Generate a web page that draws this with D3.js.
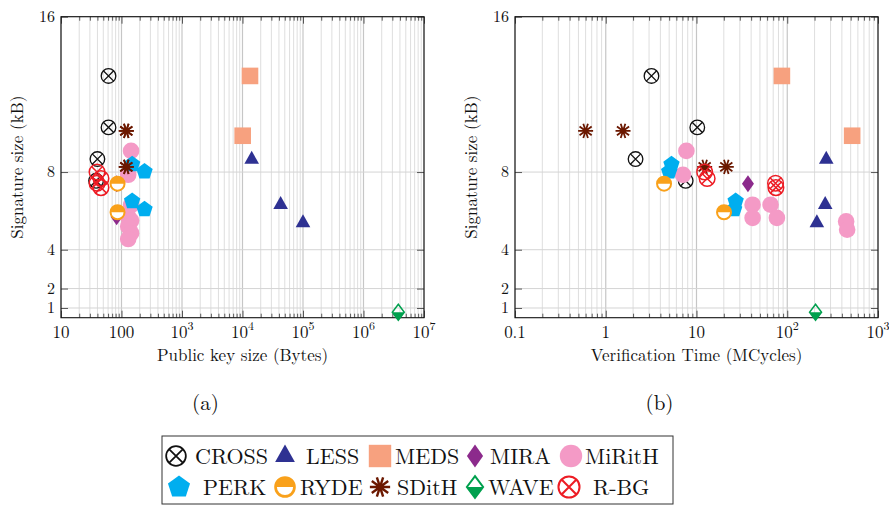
<!DOCTYPE html>
<html><head><meta charset="utf-8">
<script src="https://cdn.jsdelivr.net/npm/d3@7"></script>
<style>body{margin:0;background:#fff}svg{display:block}</style>
</head><body><svg id="c" width="889" height="506"></svg>
<script>
// ---------- data ----------
const schemes = ["CROSS","LESS","MEDS","MIRA","MiRitH","PERK","RYDE","SDitH","WAVE","R-BG"];
const sigTicks = [1,2,4,8,16];
const pkTickLabels = ["10","100","10^3","10^4","10^5","10^6","10^7"];
const timeTickLabels = ["0.1","1","10","10^2","10^3"];

const crossPk = [61,61,40,38], crossTime = [3.19,10.2,2.13,7.6], crossSig = [12.95,10.3,8.67,7.55];
const lessPk = [14200,42700,100000], lessTime = [269,262,212], lessSig = [8.65,6.32,5.38];
const medsPk = [13300,10070], medsTime = [87.3,519], medsSig = [12.95,9.87];
const miraPk = [83,83], miraTime = [36.9,41.5], miraSig = [7.4,5.7];
const mirithPk = [144,129,144,129,144,129,144,129], mirithSigPk = [9.09,7.86,6.3,5.7,5.5,5.2,4.85,4.55];
const mirithTime = [7.74,7.1,41.5,41.5,65.5,76.9,445.6,457], mirithSigTime = [9.09,7.86,6.32,5.64,6.32,5.64,5.46,5.03];
const perkPk = [150,240,150,240], perkTime = [5.3,5.0,27,26], perkSig = [8.4,8.02,6.5,6.08];
const rydePk = [86,86], rydeTime = [4.39,20.1], rydeSig = [7.4,5.93];
const sdithPk = [120,120,120,120], sdithTime = [0.6,1.55,12.3,21.3], sdithSig = [10.12,10.12,8.27,8.27];
const wavePk = [3.76e6], waveTime = [205], waveSig = [0.78];
const rbgPk = [39.4,45.8,39.4,45.8], rbgTime = [12.3,13.1,74.3,75], rbgSig = [8.0,7.67,7.42,7.2];

const leftSeries = [
  ["CROSS",crossPk,crossSig],["LESS",lessPk,lessSig],["MEDS",medsPk,medsSig],["MIRA",miraPk,miraSig],
  ["MiRitH",mirithPk,mirithSigPk],["PERK",perkPk,perkSig],["RYDE",rydePk,rydeSig],["SDitH",sdithPk,sdithSig],
  ["WAVE",wavePk,waveSig],["R-BG",rbgPk,rbgSig]];
const rightSeries = [
  ["CROSS",crossTime,crossSig],["LESS",lessTime,lessSig],["MEDS",medsTime,medsSig],["MIRA",miraTime,miraSig],
  ["MiRitH",mirithTime,mirithSigTime],["PERK",perkTime,perkSig],["RYDE",rydeTime,rydeSig],["SDitH",sdithTime,sdithSig],
  ["WAVE",waveTime,waveSig],["R-BG",rbgTime,rbgSig]];

// ---------- styles ----------
const FONT = '"Latin Modern Roman"';
const col = {CROSS:"#111",LESS:"#2e3192",MEDS:"#f7a17f",MIRA:"#8c2a8c",MiRitH:"#f49ac6",PERK:"#00aeef",
  RYDE:"#f9a11b",SDitH:"#6b1800",WAVE:"#00a04e","R-BG":"#ed1c24"};

function drawMarker(g, type, s){
  const c = col[type];
  if(type==="CROSS"||type==="R-BG"){
    const r = (type==="CROSS"?7.3:7.8)*s, k=r*0.7071;
    const sw = (type==="CROSS"?1.3:1.5)*s;
    g.append("circle").attr("r",r).attr("fill","none").attr("stroke",c).attr("stroke-width",sw);
    g.append("path").attr("d",`M${-k},${-k}L${k},${k}M${-k},${k}L${k},${-k}`).attr("stroke",c).attr("stroke-width",sw);
  } else if(type==="LESS"){
    g.append("path").attr("d",`M0,${-8.6*s}L${7.3*s},${4.4*s}L${-7.3*s},${4.4*s}Z`).attr("fill",c);
  } else if(type==="MEDS"){
    const h=8.3*s; g.append("rect").attr("x",-h).attr("y",-h).attr("width",2*h).attr("height",2*h).attr("fill",c);
  } else if(type==="MIRA"){
    g.append("path").attr("d",`M0,${-8.5*s}L${6*s},0L0,${8.5*s}L${-6*s},0Z`).attr("fill",c);
  } else if(type==="MiRitH"){
    g.append("circle").attr("r",8.3*s).attr("fill",c);
  } else if(type==="PERK"){
    const R=8.6*s, pts=d3.range(5).map(i=>{const a=-Math.PI/2+i*2*Math.PI/5;return [R*Math.cos(a),R*Math.sin(a)];});
    g.append("path").attr("d","M"+pts.map(p=>p.join(",")).join("L")+"Z").attr("fill",c);
  } else if(type==="RYDE"){
    const r=7*s;
    g.append("circle").attr("r",r).attr("fill","#fff").attr("stroke",c).attr("stroke-width",2*s);
    g.append("path").attr("d",`M${-r},0A${r},${r} 0 0 1 ${r},0Z`).attr("fill",c);
  } else if(type==="SDitH"){
    const R=7.5*s; let d="";
    for(let i=0;i<5;i++){const a=i*Math.PI/5;d+=`M${R*Math.cos(a)},${R*Math.sin(a)}L${-R*Math.cos(a)},${-R*Math.sin(a)}`;}
    g.append("path").attr("d",d).attr("stroke",c).attr("stroke-width",1.8*s);
  } else if(type==="WAVE"){
    const w=6*s,h=8*s;
    g.append("path").attr("d",`M${-w},0L${w},0L0,${h}Z`).attr("fill",c);
    g.append("path").attr("d",`M0,${-h}L${w},0L0,${h}L${-w},0Z`).attr("fill","none").attr("stroke",c).attr("stroke-width",1.5*s);
  }
}

const svg = d3.select("#c");
const yTop=16.7, yBot=317.7;
function txt(sel){ return sel.style("font-family",FONT).attr("fill","#111"); }

function tickText(sel, label){
  const parts = label.split("^");
  sel.text(parts[0]);
  if(parts[1]) sel.append("tspan").attr("dy",-7.5).attr("font-size",12).text(parts[1]);
}

function panel(x0,x1,domain,tickLabels,series,xTitle,subLabel){
  const x = d3.scaleLog().domain(domain).range([x0,x1]);
  const y = d3.scaleLinear().domain([0.5,16]).range([yBot,yTop]);
  const g = svg.append("g");
  const all = x.ticks();
  const majors = all.filter(v=>Math.abs(Math.log10(v)-Math.round(Math.log10(v)))<1e-9);
  const minors = all.filter(v=>!majors.includes(v));
  // grid
  g.append("g").selectAll("line").data(minors).join("line")
    .attr("x1",d=>x(d)).attr("x2",d=>x(d)).attr("y1",yTop).attr("y2",yBot)
    .attr("stroke","#dedede").attr("stroke-width",1);
  g.append("g").selectAll("line").data(majors).join("line")
    .attr("x1",d=>x(d)).attr("x2",d=>x(d)).attr("y1",yTop).attr("y2",yBot)
    .attr("stroke","#c6c6c6").attr("stroke-width",1.2);
  g.append("g").selectAll("line").data(sigTicks).join("line")
    .attr("x1",x0).attr("x2",x1).attr("y1",d=>y(d)).attr("y2",d=>y(d))
    .attr("stroke","#d4d4d4").attr("stroke-width",1);
  // ticks
  const tk = (axis, tr) => { const a=g.append("g").attr("transform",tr).call(axis); a.select(".domain").remove(); a.selectAll("line").attr("stroke","#333").attr("stroke-width",0.8); a.selectAll("text").remove(); };
  tk(d3.axisBottom(x).tickValues(minors).tickSize(-4), `translate(0,${yBot})`);
  tk(d3.axisBottom(x).tickValues(majors).tickSize(-7), `translate(0,${yBot})`);
  tk(d3.axisTop(x).tickValues(minors).tickSize(-4), `translate(0,${yTop})`);
  tk(d3.axisTop(x).tickValues(majors).tickSize(-7), `translate(0,${yTop})`);
  tk(d3.axisLeft(y).tickValues(sigTicks).tickSize(-7), `translate(${x0},0)`);
  tk(d3.axisRight(y).tickValues(sigTicks).tickSize(-7), `translate(${x1},0)`);
  // frame
  g.append("rect").attr("x",x0).attr("y",yTop).attr("width",x1-x0).attr("height",yBot-yTop)
    .attr("fill","none").attr("stroke","#111").attr("stroke-width",1.1);
  // tick labels
  txt(g.append("g").selectAll("text").data(majors).join("text")
    .attr("x",d=>x(d)).attr("y",337.5).attr("text-anchor","middle").attr("font-size",17))
    .each(function(d,i){ tickText(d3.select(this), tickLabels[i]); });
  txt(g.append("g").selectAll("text").data(sigTicks).join("text")
    .attr("x",x0-6).attr("y",d=>y(d)+5.3).attr("text-anchor","end").attr("font-size",16)).text(d=>d);
  // titles
  txt(g.append("text").attr("x",(x0+x1)/2).attr("y",361).attr("text-anchor","middle").attr("font-size",17)).text(xTitle);
  txt(g.append("text").attr("transform",`translate(${x0-43},${(yTop+yBot)/2}) rotate(-90)`).attr("text-anchor","middle")
    .attr("dy","0.3em").attr("font-size",17)).text("Signature size (kB)");
  txt(g.append("text").attr("x",(x0+x1)/2-37).attr("y",410).attr("text-anchor","middle").attr("font-size",21)).text(subLabel);
  // marks
  series.forEach(([name,xs,ys])=>{
    g.append("g").selectAll("g").data(d3.zip(xs,ys)).join("g")
      .attr("transform",d=>`translate(${x(d[0])},${y(d[1])})`)
      .each(function(){ drawMarker(d3.select(this),name,1); });
  });
}

panel(61,424,[10,1e7],pkTickLabels,leftSeries,"Public key size (Bytes)","(a)");
panel(515,878,[0.1,1000],timeTickLabels,rightSeries,"Verification Time (MCycles)","(b)");

// legend
const lg = svg.append("g");
lg.append("rect").attr("x",162).attr("y",436).attr("width",511).attr("height",68)
  .attr("fill","#fff").attr("stroke","#333").attr("stroke-width",1);
const markX = [176,285,380,475,571];
const textX = [[195,"CROSS"],[306,"LESS"],[395,"MEDS"],[490,"MIRA"],[585,"MiRitH"],
               [203,"PERK"],[300,"RYDE"],[397,"SDitH"],[488,"WAVE"],[593,"R-BG"]];
const mX2 = [179,285,380,475,569];
schemes.forEach((s,i)=>{
  const row = Math.floor(i/5), c = i%5;
  const cy = row===0?456:487;
  const mx = row===0?markX[c]:mX2[c];
  const mg = lg.append("g").attr("transform",`translate(${mx},${cy})`);
  drawMarker(mg,s,1.35);
  txt(lg.append("text").attr("x",textX[i][0]).attr("y",cy+7.5).attr("font-size",22)).text(s);
});
</script></body></html>
